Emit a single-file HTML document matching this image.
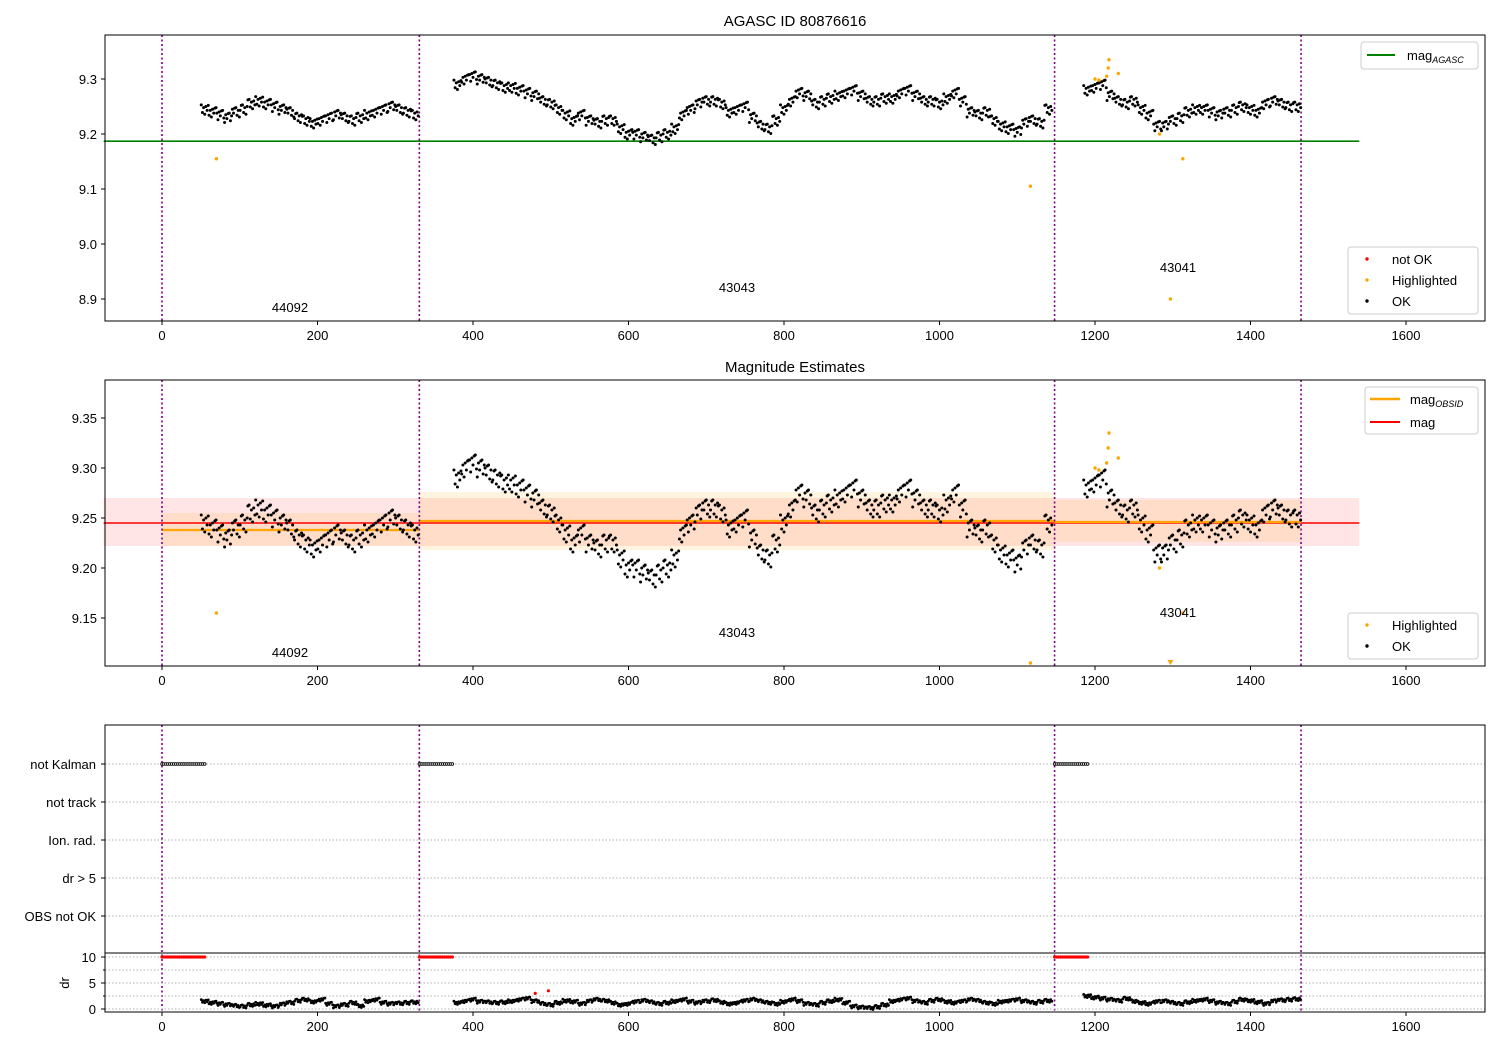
<!DOCTYPE html>
<html><head><meta charset="utf-8">
<style>
body{margin:0;background:#fff;}
svg text{font-family:"Liberation Sans","DejaVu Sans",sans-serif;}
</style></head>
<body>
<svg id="chart" width="1500" height="1050" xmlns="http://www.w3.org/2000/svg"></svg>
<script>
// ---- data ----
const seg1Start = 55, seg1Mag = [9.245,9.24,9.235,9.23,9.24,9.245,9.255,9.26,9.255,9.25,9.245,9.24,9.23,9.225,9.22,9.225,9.23,9.235,9.23,9.225,9.23,9.235,9.24,9.245,9.25,9.245,9.24,9.235];
const seg2Start = 380, seg2Mag = [9.29,9.30,9.305,9.30,9.295,9.29,9.285,9.285,9.28,9.275,9.27,9.26,9.255,9.245,9.235,9.225,9.235,9.225,9.22,9.225,9.225,9.21,9.2,9.2,9.195,9.19,9.195,9.2,9.21,9.235,9.245,9.255,9.26,9.26,9.255,9.24,9.245,9.25,9.23,9.215,9.21,9.225,9.245,9.26,9.275,9.27,9.255,9.26,9.265,9.27,9.275,9.28,9.27,9.26,9.26,9.265,9.265,9.275,9.28,9.27,9.26,9.26,9.255,9.265,9.275,9.26,9.24,9.235,9.24,9.225,9.215,9.21,9.205,9.22,9.225,9.22,9.245];
const seg3Start = 1190, seg3Mag = [9.28,9.285,9.29,9.27,9.26,9.255,9.26,9.245,9.235,9.215,9.215,9.225,9.23,9.24,9.245,9.245,9.24,9.235,9.24,9.245,9.25,9.245,9.24,9.255,9.26,9.255,9.25,9.25];
const seg1Dr = [1.5,1.2,1.0,0.8,0.6,0.5,0.8,1.0,0.7,0.5,0.9,1.2,1.6,1.8,1.4,1.8,1.0,0.5,0.8,1.2,0.6,1.5,1.8,1.2,1.0,1.1,1.2,1.3];
const seg2Dr = [1.2,1.5,1.8,1.4,1.3,1.2,1.3,1.5,1.8,2.0,1.5,1.0,0.8,1.2,1.6,1.4,1.0,1.5,1.8,1.6,1.2,0.8,1.0,1.4,1.6,1.3,1.0,1.2,1.5,1.8,1.4,1.2,1.5,1.7,1.3,1.0,1.2,1.6,1.8,1.5,1.2,1.0,1.4,1.8,1.5,1.0,0.8,1.2,1.5,1.8,1.2,0.5,0.3,0.2,0.4,0.8,1.5,1.8,2.0,1.5,1.2,1.6,1.8,1.4,1.2,1.5,1.8,1.6,1.2,1.0,1.4,1.6,1.8,1.5,1.2,1.4,1.6];
const seg3Dr = [2.5,2.2,2.0,1.8,1.6,2.0,1.5,1.2,1.0,1.4,1.5,1.2,1.0,1.3,1.6,1.8,1.5,1.2,1.0,1.4,1.8,1.6,1.3,1.0,1.5,1.7,1.8,1.9];
const hlX = [70,1117,1297,1313,1200,1205,1215,1217,1218,1230,1283];
const hlMag = [9.155,9.105,8.90,9.155,9.30,9.298,9.305,9.32,9.335,9.31,9.20];
const obsBounds = [0,331,1148,1465];
const obsIds = ["44092","43043","43041"];
const obsMean = [9.238,9.247,9.246];
const obsLo = [9.222,9.218,9.226];
const obsHi = [9.255,9.276,9.268];
const agascMag = 9.187, magMean = 9.245, magLo = 9.222, magHi = 9.270;
const kalmanRanges = [[0,55],[331,375],[1148,1192]];
const drRed = [[480,3.0],[497,3.5]];
const flagCats = ["not Kalman","not track","Ion. rad.","dr > 5","OBS not OK"];
const xTicks = [0,200,400,600,800,1000,1200,1400,1600];
const y1Ticks = [8.9,9.0,9.1,9.2,9.3];
const y2Ticks = [9.15,9.20,9.25,9.30,9.35];
const drTicks = [0,5,10];

// ---- scales ----
const svg = document.getElementById('chart');
const NS = 'http://www.w3.org/2000/svg';
const L=105,R=1485;
const X = v => 162 + v*0.7775;
const Y1 = v => 79 + (9.3-v)*550;
const Y2 = v => 468 + (9.30-v)*1000;
const Ydr = v => 1009 - v*5.2;
const flagY = i => 764 + i*38;
function el(tag, attrs, parent){const e=document.createElementNS(NS,tag);for(const k in attrs)e.setAttribute(k,attrs[k]);(parent||svg).appendChild(e);return e;}
function txt(x,y,s,anchor,size,parent){const t=el('text',{x:x,y:y,'text-anchor':anchor||'middle','font-size':size||13,fill:'#000'},parent);t.textContent=s;return t;}
// marker spread pattern (styling only)
const jx=[-4.5,-3,-1.5,0,1.5,3,4.5], jy=[0.008,-0.006,0.003,-0.009,0.005,-0.002,0.007];
const jd=[0.3,-0.2,0.1,-0.3,0.2,-0.1,0.25];
function segs(){return [[seg1Start,seg1Mag],[seg2Start,seg2Mag],[seg3Start,seg3Mag]];}

function panel(name){
  const g=el('g',{});
  
  
  return g;
}
function frame(g,top,bottom){el('rect',{x:L,y:top,width:R-L,height:bottom-top,fill:'none',stroke:'#000','stroke-width':1},g);}
function xAxis(g,bottom){
  const ax=el('g',{},g);
  
  
  xTicks.forEach(t=>{el('line',{x1:X(t),x2:X(t),y1:bottom,y2:bottom+4,stroke:'#000'},ax);txt(X(t),bottom+19,String(t),'middle',13,ax);});
}
function vlines(g,top,bottom){obsBounds.forEach(b=>{const l=el('line',{x1:X(b),x2:X(b),y1:top,y2:bottom,stroke:'purple','stroke-width':1.6,'stroke-dasharray':'2,2.5'},g);});}
function magDots(g,Y){
  segs().forEach(([s,arr])=>arr.forEach((v,i)=>{for(let k=0;k<7;k++){el('circle',{cx:X(s+i*10+jx[k]),cy:Y(v+jy[(k+i)%7]),r:1.5,fill:'#000'},g);}}));
}

// ---- Panel 1 ----
const p1=panel('agasc-panel');
txt(795,26,'AGASC ID 80876616','middle',15,p1);
el('line',{x1:X(-75),x2:X(1540),y1:Y1(agascMag),y2:Y1(agascMag),stroke:'green','stroke-width':1.6},p1);
vlines(p1,35,321);
magDots(p1,Y1);
hlX.forEach((x,i)=>el('circle',{cx:X(x),cy:Y1(hlMag[i]),r:1.7,fill:'orange'},p1));
[[290,312],[737,292],[1178,272]].forEach((p,i)=>txt(p[0],p[1],obsIds[i],'middle',13,p1));
y1Ticks.forEach(t=>{el('line',{x1:L-4,x2:L,y1:Y1(t),y2:Y1(t),stroke:'#000'},p1);txt(L-8,Y1(t)+5,t.toFixed(1),'end',13,p1);});
frame(p1,35,321);xAxis(p1,321);
let lg=el('g',{},p1);
el('rect',{x:1361,y:42,width:117,height:27,rx:3,fill:'#fff',stroke:'#ccc'},lg);
el('line',{x1:1367,x2:1395,y1:55,y2:55,stroke:'green','stroke-width':2},lg);
let t=txt(1407,60,'mag','start',13,lg);const ts=el('tspan',{'font-size':9,'font-style':'italic',dy:3},t);ts.textContent='AGASC';t.appendChild(ts);
lg=el('g',{},p1);
el('rect',{x:1348,y:247,width:130,height:67,rx:3,fill:'#fff',stroke:'#ccc'},lg);
[['red','not OK',259],['orange','Highlighted',280],['#000','OK',301]].forEach(([c,s,y])=>{el('circle',{cx:1367,cy:y,r:1.7,fill:c},lg);txt(1392,y+5,s,'start',13,lg);});

// ---- Panel 2 ----
const p2=panel('estimates-panel');
txt(795,372,'Magnitude Estimates','middle',15,p2);
el('rect',{x:X(-75),y:Y2(magHi),width:X(1540)-X(-75),height:Y2(magLo)-Y2(magHi),fill:'rgba(255,0,0,0.1)'},p2);
for(let i=0;i<3;i++){
  const b=el('rect',{x:X(obsBounds[i]),y:Y2(obsHi[i]),width:X(obsBounds[i+1])-X(obsBounds[i]),height:Y2(obsLo[i])-Y2(obsHi[i]),fill:'rgba(255,165,0,0.12)'},p2);
  
}
el('line',{x1:X(-75),x2:X(1540),y1:Y2(magMean),y2:Y2(magMean),stroke:'red','stroke-width':1.6},p2);
for(let i=0;i<3;i++){const l=el('line',{x1:X(obsBounds[i]),x2:X(obsBounds[i+1]),y1:Y2(obsMean[i]),y2:Y2(obsMean[i]),stroke:'orange','stroke-width':2.2},p2);}
vlines(p2,380,666);
magDots(p2,Y2);
hlX.forEach((x,i)=>{const v=hlMag[i];if(v<9.103){const cx=X(x),cy=663;el('path',{d:`M${cx-3},${cy-3}L${cx+3},${cy-3}L${cx},${cy+2}Z`,fill:'orange'},p2);}else el('circle',{cx:X(x),cy:Y2(v),r:1.7,fill:'orange'},p2);});
[[290,657],[737,637],[1178,617]].forEach((p,i)=>txt(p[0],p[1],obsIds[i],'middle',13,p2));
y2Ticks.forEach(t=>{el('line',{x1:L-4,x2:L,y1:Y2(t),y2:Y2(t),stroke:'#000'},p2);txt(L-8,Y2(t)+5,t.toFixed(2),'end',13,p2);});
frame(p2,380,666);xAxis(p2,666);
lg=el('g',{},p2);
el('rect',{x:1365,y:387,width:113,height:47,rx:3,fill:'#fff',stroke:'#ccc'},lg);
el('line',{x1:1370,x2:1400,y1:399,y2:399,stroke:'orange','stroke-width':2.5},lg);
t=txt(1410,404,'mag','start',13,lg);const ts2=el('tspan',{'font-size':9,'font-style':'italic',dy:3},t);ts2.textContent='OBSID';t.appendChild(ts2);
el('line',{x1:1370,x2:1400,y1:422,y2:422,stroke:'red','stroke-width':2},lg);txt(1410,427,'mag','start',13,lg);
lg=el('g',{},p2);
el('rect',{x:1348,y:613,width:130,height:46,rx:3,fill:'#fff',stroke:'#ccc'},lg);
[['orange','Highlighted',625],['#000','OK',646]].forEach(([c,s,y])=>{el('circle',{cx:1367,cy:y,r:1.7,fill:c},lg);txt(1392,y+5,s,'start',13,lg);});

// ---- Panel 3 flags ----
const p3=panel('flags-panel');
flagCats.forEach((c,i)=>{el('line',{x1:L,x2:R,y1:flagY(i),y2:flagY(i),stroke:'#b0b0b0','stroke-dasharray':'1.5,2'},p3);el('line',{x1:L-4,x2:L,y1:flagY(i),y2:flagY(i),stroke:'#000'},p3);txt(L-9,flagY(i)+5,c,'end',13,p3);});
vlines(p3,725,1012);
kalmanRanges.forEach(([a,b])=>{for(let v=a;v<=b;v+=2.5){el('circle',{cx:X(v),cy:flagY(0),r:1.3,fill:'#fff',stroke:'#000','stroke-width':0.8},p3);}});
el('rect',{x:L,y:725,width:R-L,height:228,fill:'none',stroke:'#000'},p3);
// dr
const p4=panel('dr-panel');
[0,2.5,5,7.5,10].forEach(v=>el('line',{x1:L,x2:R,y1:Ydr(v),y2:Ydr(v),stroke:'#b0b0b0','stroke-dasharray':'1.5,2'},p4));
[0,2.5,5,7.5,10].forEach(v=>el('line',{x1:L-(v%5?2:4),x2:L,y1:Ydr(v),y2:Ydr(v),stroke:'#000'},p4));
drTicks.forEach(v=>txt(L-9,Ydr(v)+5,String(v),'end',13,p4));
const dl=txt(69,983,'dr','middle',13,p4);dl.setAttribute('transform','rotate(-90 69 983)');
kalmanRanges.forEach(([a,b])=>{for(let v=a;v<=b;v+=2.5)el('circle',{cx:X(v),cy:Ydr(10),r:1.6,fill:'red'},p4);});
[[seg1Start,seg1Dr],[seg2Start,seg2Dr],[seg3Start,seg3Dr]].forEach(([s,arr])=>arr.forEach((v,i)=>{for(let k=0;k<7;k++)el('circle',{cx:X(s+i*10+jx[k]),cy:Ydr(v+jd[(k+i)%7]),r:1.4,fill:'#000'},p4);}));
drRed.forEach(([x,v])=>el('circle',{cx:X(x),cy:Ydr(v),r:1.6,fill:'red'},p4));
el('rect',{x:L,y:953,width:R-L,height:59,fill:'none',stroke:'#000'},p4);
xAxis(p4,1012);
</script>
</body></html>
